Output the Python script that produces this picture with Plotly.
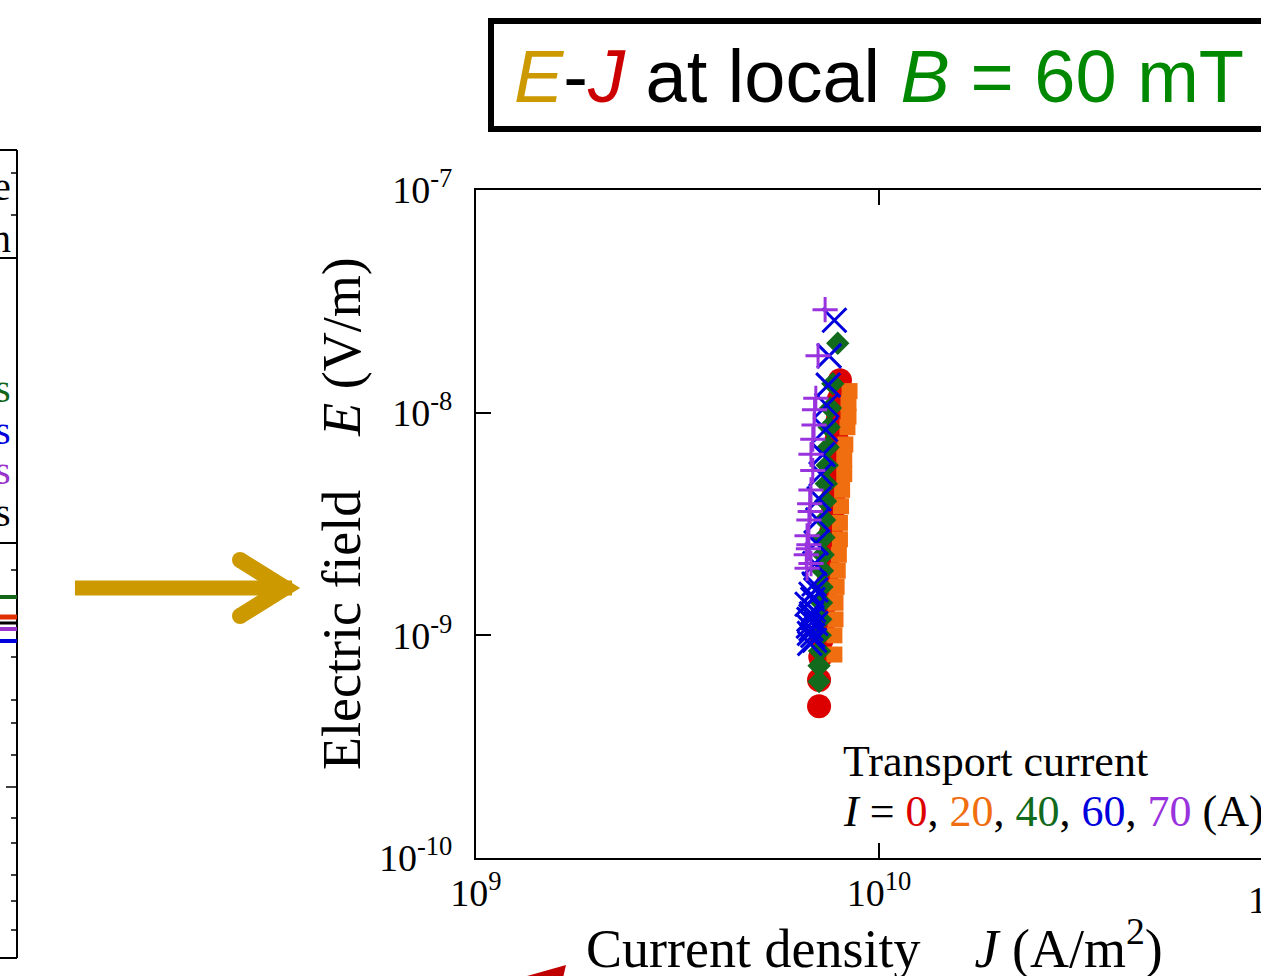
import plotly.graph_objects as go
import math

# ---------------- data (J in 1e9 A/m^2, E in 1e-9 V/m) ----------------
J0 = [8.0, 7.95, 7.9, 7.85, 7.8, 7.75, 7.7, 7.65, 7.6, 7.55, 7.5, 7.45, 7.4, 7.3, 7.2, 7.15, 7.1, 7.1]
E0 = [14.0, 11.5, 9.3, 7.6, 6.2, 5.1, 4.2, 3.5, 2.9, 2.4, 2.0, 1.7, 1.4, 1.15, 0.95, 0.8, 0.63, 0.48]

J20 = [8.45, 8.4, 8.4, 8.35, 8.25, 8.2, 8.2, 8.1, 8.05, 8.0, 8.0, 7.95, 7.9, 7.85, 7.8, 7.8, 7.75, 7.75]
E20 = [12.5, 11.0, 9.6, 8.6, 7.2, 6.2, 5.3, 4.5, 3.8, 3.2, 2.7, 2.3, 1.95, 1.65, 1.4, 1.18, 1.0, 0.82]

J40 = [7.9, 7.68, 7.58, 7.52, 7.48, 7.44, 7.4, 7.37, 7.33, 7.3, 7.27, 7.24, 7.22, 7.2, 7.17, 7.15, 7.12, 7.1, 7.1]
E40 = [20.5, 13.5, 10.5, 8.6, 7.0, 5.8, 4.8, 4.0, 3.3, 2.75, 2.3, 1.95, 1.65, 1.4, 1.18, 1.0, 0.85, 0.73, 0.62]

J60 = [7.75, 7.52, 7.48, 7.42, 7.37, 7.26, 7.18, 7.1, 7.05, 6.98, 6.93, 6.9, 6.85, 6.8, 6.78, 6.73,
       6.97, 6.7, 6.85, 6.63, 6.97, 6.78, 6.88, 6.72, 6.92, 6.68, 6.82]
E60 = [26.0, 18.0, 13.3, 10.8, 8.4, 6.5, 5.3, 4.1, 3.3, 2.6, 2.1, 1.7, 1.45, 1.25, 1.07, 0.92,
       1.6, 1.18, 1.0, 1.38, 1.13, 1.53, 1.3, 1.02, 0.95, 1.1, 1.2]

J70 = [7.35, 7.06, 6.97, 6.92, 6.9, 6.85, 6.78, 6.85, 6.78, 6.73, 6.7, 6.63, 6.7, 6.6, 6.78, 6.63, 6.75, 6.68]
E70 = [29.0, 18.0, 11.6, 10.3, 8.8, 7.6, 6.5, 5.5, 4.5, 3.9, 3.3, 2.8, 2.55, 2.3, 2.1, 2.0, 3.6, 2.45]

currents = ["0", "20", "40", "60", "70"]
x_tickvals = [1e9, 1e10, 1e11]
x_ticktext = ["10<sup>9</sup>", "10<sup>10</sup>", "10<sup>11</sup>"]
y_tickvals = [1e-10, 1e-9, 1e-8, 1e-7]
y_ticktext = ["10<sup>-10</sup>", "10<sup>-9</sup>", "10<sup>-8</sup>", "10<sup>-7</sup>"]

RED = "#dd0000"
ORANGE = "#f06e10"
GREEN = "#126a1c"
BLUE = "#0000dd"
PURPLE = "#9933dd"
GOLD = "#cc9900"

SERIF = "Liberation Serif"
SANS = "Liberation Sans"

# ---------------- geometry helpers (pixel -> paper) ----------------
W, H = 1261, 976
L, R, T, B = 476, 1261, 190, 858


def px(x):
    return (x - L) / (R - L)


def py(y):
    return (B - y) / (B - T)


def scale(v, f):
    return [a * f for a in v]


fig = go.Figure()
series = [
    (J0, E0, "circle", 24, RED, 0),
    (J20, E20, "square", 16, ORANGE, 0),
    (J40, E40, "diamond", 18, GREEN, 0),
    (J60, E60, "x-thin", 24, BLUE, 3),
    (J70, E70, "cross-thin", 18, PURPLE, 3),
]
for (jj, ee, sym, sz, col, lw), name in zip(series, currents):
    marker = dict(symbol=sym, size=sz, color=col)
    if lw:
        marker["line"] = dict(color=col, width=lw)
    else:
        marker["line"] = dict(width=0)
    fig.add_trace(go.Scatter(x=scale(jj, 1e9), y=scale(ee, 1e-9), mode="markers",
                             marker=marker, name=f"I = {name} A", showlegend=False,
                             cliponaxis=False))

x_hi = 9 + (R - L) / 403.0

fig.update_layout(
    width=W, height=H,
    margin=dict(l=L, r=W - R, t=T, b=H - B, pad=0),
    paper_bgcolor="white", plot_bgcolor="white",
    showlegend=False,
    xaxis=dict(type="log", range=[9, x_hi], showline=True, linecolor="black", linewidth=2,
               mirror="ticks", ticks="inside", ticklen=15, tickwidth=2, tickcolor="black",
               tickvals=x_tickvals, ticktext=x_ticktext, showgrid=False, zeroline=False,
               tickfont=dict(family=SERIF, size=38, color="black")),
    yaxis=dict(type="log", range=[-10, -7], showline=True, linecolor="black", linewidth=2,
               mirror=False, ticks="inside", ticklen=15, tickwidth=2, tickcolor="black",
               tickvals=y_tickvals, ticktext=y_ticktext, showgrid=False, zeroline=False,
               ticklabelstandoff=14,
               tickfont=dict(family=SERIF, size=38, color="black")),
)

ann = []
shapes = []


def text(x, y, s, size, family=SERIF, color="black", xanchor="left", yanchor="middle", angle=0):
    ann.append(dict(x=px(x), y=py(y), xref="paper", yref="paper", text=s, showarrow=False,
                    xanchor=xanchor, yanchor=yanchor, textangle=angle,
                    font=dict(family=family, size=size, color=color)))


# axis titles
text(874, 944, "Current density\u00a0\u00a0\u00a0\u00a0<i>J</i> (A/m<sup>2</sup>)", 54, xanchor="center")
text(342, 514, "Electric field\u00a0\u00a0\u00a0\u00a0<i>E</i> (V/m)", 54, xanchor="center", angle=-90)

# cropped 10^11 label
text(1280, 897, "10<sup>11</sup>", 38, xanchor="center")

# legend text
text(841, 761, "Transport current", 44)
text(841, 811,
     f"<i>I</i> = <span style='color:{RED}'>0</span>, <span style='color:{ORANGE}'>20</span>, "
     f"<span style='color:{GREEN}'>40</span>, <span style='color:{BLUE}'>60</span>, "
     f"<span style='color:{PURPLE}'>70</span> (A)", 44)

# title box
shapes.append(dict(type="rect", xref="paper", yref="paper", x0=px(491), x1=px(1330), y0=py(21), y1=py(129),
                   line=dict(color="black", width=6), fillcolor="white", layer="below"))
text(512, 76,
     f"<span style='color:{GOLD}'><i>E</i></span>-<span style='color:#cc0000'><i>J</i></span> at local"
     f" <span style='color:#008800'><i>B</i> = 60 mT</span>", 74, family=SANS)

# golden arrow
shapes.append(dict(type="line", xref="paper", yref="paper", x0=px(75), x1=px(292), y0=py(588), y1=py(588),
                   line=dict(color=GOLD, width=15)))
shapes.append(dict(type="path", xref="paper", yref="paper",
                   path=f"M {px(240)},{py(560)} L {px(285)},{py(588)} L {px(240)},{py(616)}",
                   line=dict(color=GOLD, width=16)))
for cy in (560, 616):
    shapes.append(dict(type="circle", xref="paper", yref="paper", x0=px(232), x1=px(248),
                       y0=py(cy - 8), y1=py(cy + 8), fillcolor=GOLD, line=dict(width=0)))

# red arrow fragment at bottom
shapes.append(dict(type="path", xref="paper", yref="paper",
                   path=f"M {px(520)},{py(978)} L {px(566)},{py(965)} L {px(563)},{py(978)} Z",
                   fillcolor="#c00000", line=dict(width=0)))

# left neighbouring panel fragment
K = "black"


def hline(y, x0, x1, color=K, width=2):
    shapes.append(dict(type="line", xref="paper", yref="paper", x0=px(x0), x1=px(x1), y0=py(y), y1=py(y),
                       line=dict(color=color, width=width)))


shapes.append(dict(type="line", xref="paper", yref="paper", x0=px(17), x1=px(17), y0=py(150), y1=py(958),
                   line=dict(color=K, width=2)))
for y in (150, 258, 543, 958):
    hline(y, -5, 17)
for y in (173, 215, 570, 657, 700, 723, 755, 818, 843, 875, 901, 930):
    hline(y, 11, 17, width=1.5)
hline(787, 6, 17, width=1.5)
hline(597, -5, 17, color="#116618", width=4)
hline(617, -5, 17, color="#e03000", width=5)
hline(623, -5, 17, color="black", width=3)
hline(629, -5, 17, color="#9933cc", width=4)
hline(641, -5, 17, color="#0000dd", width=4)
for y, s, c in [(186, "e", K), (238, "n", K), (388, "s", "#116618"), (430, "s", "#0000dd"),
                (470, "s", "#9933cc"), (512, "s", K)]:
    text(13, y, s, 40, color=c, xanchor="right")

fig.update_layout(annotations=ann, shapes=shapes)
fig.write_html("out.html", config={"displayModeBar": False},
               post_script="document.body.style.margin='0';document.body.style.overflow='hidden';")
